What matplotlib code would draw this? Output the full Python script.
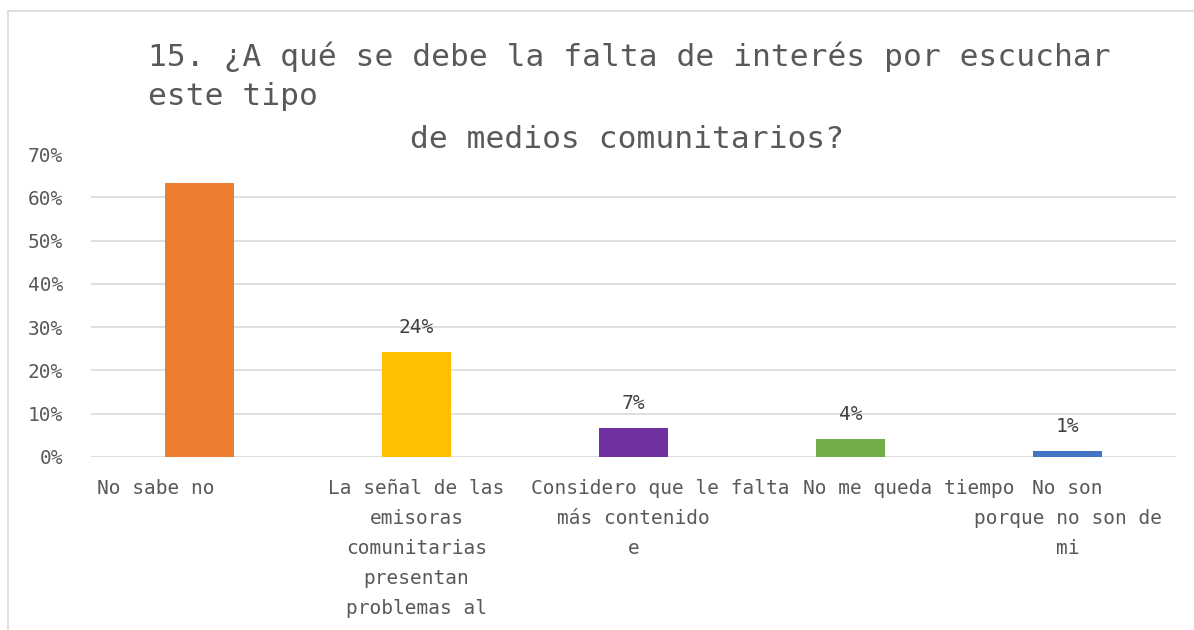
import matplotlib.pyplot as plt
from matplotlib.patches import Rectangle
from matplotlib.ticker import PercentFormatter
import matplotlib.transforms as mtransforms

plt.rcParams['font.family'] = ['DejaVu Sans Mono', 'DejaVu Sans']

# Data
categories = [
    "No sabe no",
    "La señal de las\nemisoras\ncomunitarias\npresentan\nproblemas al",
    "Considero que le falta\nmás contenido\ne",
    "No me queda tiempo",
    "No son\nporque no son de\nmi",
]
values = [0.633, 0.243, 0.067, 0.042, 0.014]
value_labels = ["63%", "24%", "7%", "4%", "1%"]
colors = ["#ED7D31", "#FFC000", "#7030A0", "#70AD47", "#4472C4"]
yticks = [0, 0.1, 0.2, 0.3, 0.4, 0.5, 0.6, 0.7]
title_top = "15. ¿A qué se debe la falta de interés por escuchar\neste tipo"
title_bottom = "de medios comunitarios?"

# first-line shift (pixels) of each category label, as Excel laid them out
first_line_shift = [-44, 0, 27, 58, 0]

W, H = 1194, 630
fig = plt.figure(figsize=(W / 100, H / 100), dpi=100)

# chart frame
fig.patches.append(Rectangle((8 / W, -0.05), 1.1, (H - 11) / H + 0.05,
                             transform=fig.transFigure, fill=False,
                             edgecolor="#d9d9d9", linewidth=1.2))

ax = fig.add_axes([91 / W, (H - 457) / H, (1176 - 91) / W, (457 - 154) / H])
x = range(len(categories))
ax.bar(x, values, width=0.32, color=colors, zorder=3)

ax.set_xlim(-0.5, len(categories) - 0.5)
ax.set_ylim(0, 0.7)
ax.set_yticks(yticks)
ax.yaxis.set_major_formatter(PercentFormatter(1.0, decimals=0))
ax.tick_params(axis='y', length=0, labelsize=14, labelcolor="#595959", pad=20)
ax.tick_params(axis='x', length=0, labelbottom=False)
ax.grid(axis='y', color="#d9d9d9", linewidth=1.2, zorder=0)
ax.get_ygridlines()[-1].set_visible(False)
for s in ax.spines.values():
    s.set_visible(False)

# data labels (the first one is hidden behind the title in the original)
for i, (v, lab) in enumerate(zip(values, value_labels)):
    if i == 0:
        continue
    ax.annotate(lab, (i, v), xytext=(0, 11), textcoords='offset points',
                ha='center', va='bottom', fontsize=14, color="#404040")

# category labels
for i, lab in enumerate(categories):
    lines = lab.split("\n")
    for j, line in enumerate(lines):
        dx = first_line_shift[i] if j == 0 else 0
        tr = ax.get_xaxis_transform() + mtransforms.ScaledTranslation(
            dx / 100, -(31 + 30 * j) / 100, fig.dpi_scale_trans)
        ax.text(i, 0, line, transform=tr, ha='center', va='center',
                fontsize=14, color="#595959", clip_on=False)

# title
fig.text(148 / W, 1 - 41 / H, title_top, ha='left', va='top',
         fontsize=22.5, color="#595959", linespacing=1.45)
fig.text(627 / W, 1 - 139 / H, title_bottom, ha='center', va='center',
         fontsize=22.5, color="#595959")

fig.savefig("out.png", dpi=100)
